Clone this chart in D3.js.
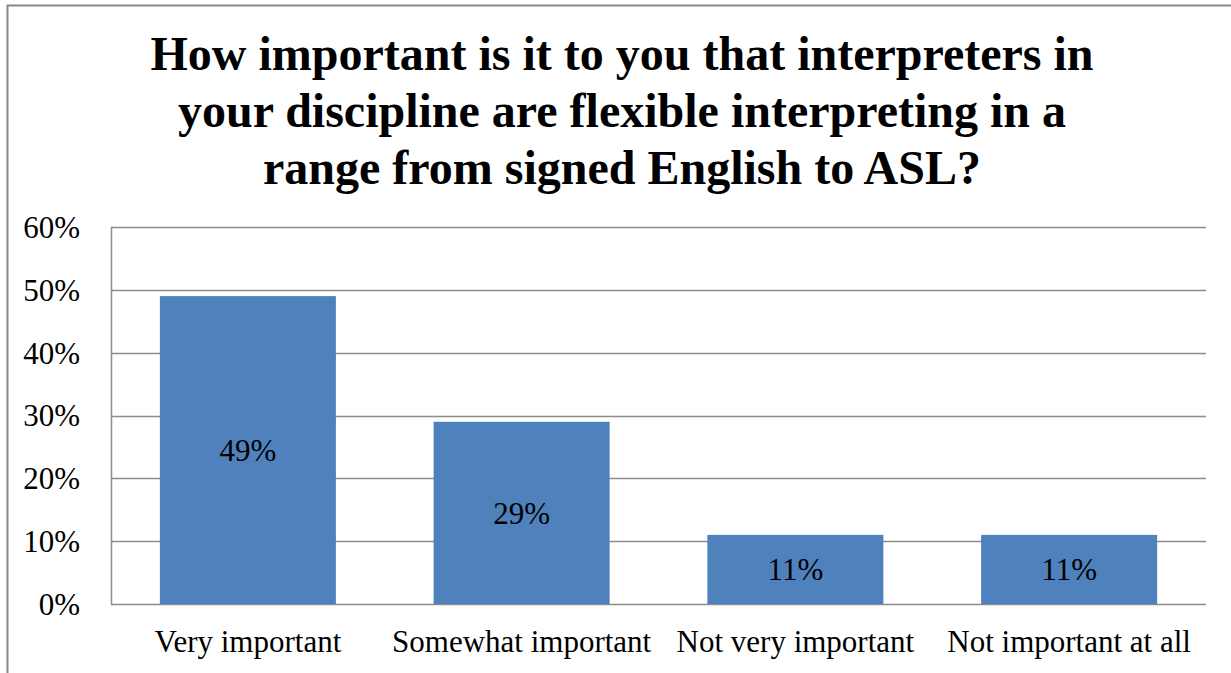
<!DOCTYPE html>
<html>
<head>
<meta charset="utf-8">
<script src="https://cdn.jsdelivr.net/npm/d3@7"></script>
<style>
  html, body { margin: 0; padding: 0; background: #fff; }
  svg { display: block; }
</style>
</head>
<body>
<svg id="chart" width="1231" height="673"></svg>
<script>
// Survey responses: share of respondents per importance level
const categories = ["Very important", "Somewhat important", "Not very important", "Not important at all"];
const values = [0.49, 0.29, 0.11, 0.11];
const valueLabels = ["49%", "29%", "11%", "11%"];
const tickValues = [0, 0.1, 0.2, 0.3, 0.4, 0.5, 0.6];
const titleLines = [
  "How important is it to you that interpreters in",
  "your discipline are flexible interpreting in a",
  "range from signed English to ASL?"
];

const svg = d3.select("#chart");
const W = 1231, H = 673;
const font = "'Liberation Serif', 'Times New Roman', serif";
const labelSize = 31;

// Outer chart frame
svg.append("rect")
  .attr("x", 7.5).attr("y", 5.5)
  .attr("width", W + 20).attr("height", H + 20)
  .attr("fill", "#fff").attr("stroke", "#888").attr("stroke-width", 2);

// Title
svg.append("g").selectAll("text")
  .data(titleLines).join("text")
  .attr("x", 622).attr("y", (d, i) => 70 + i * 57)
  .attr("text-anchor", "middle")
  .attr("font-family", font).attr("font-weight", "bold")
  .attr("font-size", 48).attr("fill", "#000")
  .text(d => d);

const plot = { left: 111, right: 1206, top: 227, bottom: 604 };

const x = d3.scaleBand()
  .domain(categories)
  .range([plot.left, plot.right])
  .paddingInner(0.357).paddingOuter(0.1785);

const y = d3.scaleLinear().domain([0, 0.6]).range([plot.bottom, plot.top]);

// Gridlines
svg.append("g").selectAll("line")
  .data(tickValues).join("line")
  .attr("x1", plot.left).attr("x2", plot.right)
  .attr("y1", d => Math.round(y(d)) + 0.5).attr("y2", d => Math.round(y(d)) + 0.5)
  .attr("stroke", "#8c8c8c").attr("stroke-width", 1.5);

// Value axis line
svg.append("line")
  .attr("x1", plot.left + 0.5).attr("x2", plot.left + 0.5)
  .attr("y1", plot.top).attr("y2", plot.bottom)
  .attr("stroke", "#8c8c8c").attr("stroke-width", 1.5);

// Value axis tick labels
svg.append("g").selectAll("text")
  .data(tickValues).join("text")
  .attr("x", 80).attr("y", d => y(d))
  .attr("dy", "0.35em")
  .attr("text-anchor", "end")
  .attr("font-family", font).attr("font-size", labelSize).attr("fill", "#000")
  .text(d3.format(".0%"));

// Bars
svg.append("g").selectAll("rect")
  .data(values).join("rect")
  .attr("x", (d, i) => x(categories[i]))
  .attr("y", d => y(d))
  .attr("width", x.bandwidth())
  .attr("height", d => y(0) - y(d))
  .attr("fill", "#4f81bd");

// Value labels centred in bars
svg.append("g").selectAll("text")
  .data(values).join("text")
  .attr("x", (d, i) => x(categories[i]) + x.bandwidth() / 2)
  .attr("y", d => (y(d) + y(0)) / 2)
  .attr("dy", "0.35em")
  .attr("text-anchor", "middle")
  .attr("font-family", font).attr("font-size", labelSize).attr("fill", "#000")
  .text((d, i) => valueLabels[i]);

// Category labels
svg.append("g").selectAll("text")
  .data(categories).join("text")
  .attr("x", d => x(d) + x.bandwidth() / 2)
  .attr("y", 652)
  .attr("text-anchor", "middle")
  .attr("font-family", font).attr("font-size", labelSize).attr("fill", "#000")
  .text(d => d);
</script>
</body>
</html>
